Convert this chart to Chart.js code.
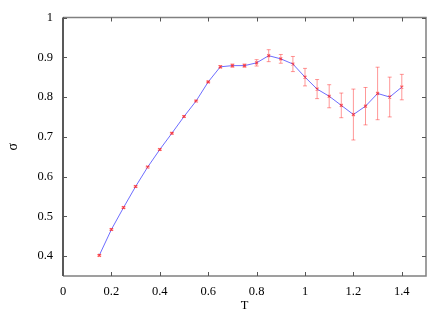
<!DOCTYPE html>
<html><head><meta charset="utf-8">
<script src="https://cdn.jsdelivr.net/npm/chart.js@4/dist/chart.umd.min.js"></script>
<style>html,body{margin:0;padding:0;background:#fff}#wrap{width:448px;height:313px}</style>
</head><body><div id="wrap"><canvas id="c" width="448" height="313"></canvas></div>
<script>
const T = [0.15,0.2,0.25,0.3,0.35,0.4,0.45,0.5,0.55,0.6,0.65,0.7,0.75,0.8,0.85,0.9,0.95,1.0,1.05,1.1,1.15,1.2,1.25,1.3,1.35,1.4];
const sigma = [0.402,0.467,0.522,0.575,0.624,0.668,0.709,0.751,0.790,0.838,0.876,0.879,0.879,0.886,0.904,0.896,0.883,0.850,0.820,0.802,0.779,0.756,0.777,0.809,0.800,0.825];
const sigmaErr = [0.002,0.002,0.002,0.002,0.002,0.002,0.002,0.002,0.002,0.002,0.003,0.004,0.004,0.008,0.015,0.011,0.019,0.022,0.024,0.029,0.031,0.064,0.047,0.066,0.050,0.032];
const xTicks = [0,0.2,0.4,0.6,0.8,1,1.2,1.4];
const yTicks = [0.4,0.5,0.6,0.7,0.8,0.9,1];

const fmt = v => String(+(+v).toFixed(1));
const errPlugin = {
  id:'err',
  afterDatasetsDraw(chart){
    const {ctx, scales:{x,y}} = chart;
    ctx.save();
    ctx.strokeStyle='rgba(255,50,50,0.5)';
    ctx.lineWidth=1;
    T.forEach((t,i)=>{
      const px=x.getPixelForValue(t);
      const y1=y.getPixelForValue(sigma[i]+sigmaErr[i]);
      const y2=y.getPixelForValue(sigma[i]-sigmaErr[i]);
      ctx.beginPath();
      ctx.moveTo(px,y1);ctx.lineTo(px,y2);
      ctx.moveTo(px-2,y1);ctx.lineTo(px+2,y1);
      ctx.moveTo(px-2,y2);ctx.lineTo(px+2,y2);
      ctx.stroke();
    });
    ctx.restore();
  }
};
const framePlugin = {
  id:'frame',
  afterDraw(chart){
    const {ctx, chartArea:a, scales:{x,y}} = chart;
    ctx.save();
    ctx.lineWidth=1.5;
    ctx.strokeStyle='#808080';
    ctx.beginPath();
    ctx.moveTo(a.left,a.top);ctx.lineTo(a.right,a.top);ctx.lineTo(a.right,a.bottom);ctx.lineTo(a.left,a.bottom);
    ctx.stroke();
    ctx.strokeStyle='#222';
    ctx.beginPath();ctx.moveTo(a.left,a.top);ctx.lineTo(a.left,a.bottom);ctx.stroke();
    ctx.lineWidth=1;
    ctx.strokeStyle='#555';
    ctx.beginPath();
    xTicks.forEach(v=>{const p=Math.round(x.getPixelForValue(v))+0.5;
      ctx.moveTo(p,a.bottom);ctx.lineTo(p,a.bottom-4);ctx.moveTo(p,a.top);ctx.lineTo(p,a.top+4);});
    yTicks.forEach(v=>{const p=Math.round(y.getPixelForValue(v))+0.5;
      ctx.moveTo(a.left,p);ctx.lineTo(a.left+4,p);ctx.moveTo(a.right,p);ctx.lineTo(a.right-4,p);});
    ctx.stroke();
    ctx.restore();
  }
};
new Chart(document.getElementById('c'),{
  type:'scatter',
  data:{datasets:[{
    data:T.map((t,i)=>({x:t,y:sigma[i]})),
    showLine:true,
    borderColor:'rgba(60,60,255,0.75)',
    borderWidth:1,
    pointStyle:'crossRot',
    pointRadius:2,
    pointBorderColor:'rgba(255,0,0,0.6)',
    pointBorderWidth:1.2,
    pointBackgroundColor:'rgba(255,0,0,0.6)'
  }]},
  options:{
    responsive:false,animation:false,
    layout:{padding:{left:0,right:22,top:15,bottom:0}},
    plugins:{legend:{display:false},tooltip:{enabled:false}},
    scales:{
      x:{type:'linear',min:0,max:1.5,
        afterBuildTicks:s=>{s.ticks=xTicks.map(v=>({value:v}));},
        afterFit:s=>{s.height=37;},
        grid:{display:false,drawTicks:false},border:{display:false},
        ticks:{callback:fmt,padding:8,color:'#000',font:{family:'Liberation Serif',size:12.5},maxRotation:0},
        title:{display:true,text:'T',color:'#000',font:{family:'Liberation Serif',size:12.5},padding:{top:0,bottom:0}}
      },
      y:{type:'linear',min:0.35,max:1,
        afterBuildTicks:s=>{s.ticks=yTicks.map(v=>({value:v}));},
        afterFit:s=>{s.width=63;},
        grid:{display:false,drawTicks:false},border:{display:false},
        ticks:{callback:fmt,padding:10,color:'#000',font:{family:'Liberation Serif',size:12.5}},
        title:{display:true,text:'σ',color:'#000',font:{family:'Liberation Serif',size:14},padding:{top:5,bottom:0}}
      }
    }
  },
  plugins:[errPlugin,framePlugin]
});
</script></body></html>
